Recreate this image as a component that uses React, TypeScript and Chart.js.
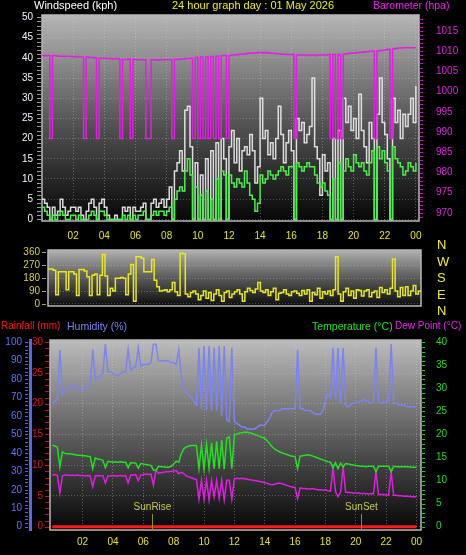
import React, { useEffect, useRef } from 'react';
import { Chart, registerables } from 'chart.js';
Chart.register(...registerables);

// ---------------- data (10-minute records, index / 6 = hour) ----------------
const POINTS_PER_HOUR = 6;
const HOUR_TICKS = [2, 4, 6, 8, 10, 12, 14, 16, 18, 20, 22, 24];
const HOUR_LABELS = ['02', '04', '06', '08', '10', '12', '14', '16', '18', '20', '22', '00'];

const WIND_TICKS = [0, 5, 10, 15, 20, 25, 30, 35, 40, 45, 50];
const BARO_TICKS = [970, 975, 980, 985, 990, 995, 1000, 1005, 1010, 1015];
const DIR_TICKS = [0, 90, 180, 270, 360];
const DIR_LETTERS = ['N', 'W', 'S', 'E', 'N'];
const HUM_TICKS = [0, 10, 20, 30, 40, 50, 60, 70, 80, 90, 100];
const RAIN_TICKS = [0, 5, 10, 15, 20, 25, 30];
const TEMP_TICKS = [0, 5, 10, 15, 20, 25, 30, 35, 40];

const TITLE = '24 hour graph day : 01 May 2026';
const SUN_LABELS = ['SunRise', 'SunSet'];
const SUN_HOURS = [6.55, 20.35];

const BARO = [
  1009.0, 1008.9, 1009.0, 988.4, 1008.9, 1008.9,
  1008.8, 1008.8, 1008.7, 1008.8, 1008.7, 1008.7,
  1008.6, 1008.7, 1008.6, 1008.6, 988.4, 1008.6,
  1008.5, 1008.5, 1008.4, 988.4, 1008.3, 1008.3,
  1008.3, 1008.2, 1008.2, 1008.1, 1008.2, 1008.1,
  988.4, 1008.0, 1008.0, 1008.1, 988.4, 1008.0,
  1007.9, 1007.9, 1007.9, 1007.9, 988.4, 988.4,
  1007.9, 1007.9, 1007.8, 1007.9, 1007.9, 1007.9,
  1007.9, 1008.0, 988.4, 1008.0, 1008.0, 1008.1,
  1008.1, 1008.2, 1008.2, 1008.3, 988.4, 1008.5,
  988.4, 1008.6, 988.4, 1008.6, 988.4, 1008.7,
  988.4, 1008.8, 988.4, 1008.9, 1009.0, 988.4,
  1009.0, 1009.1, 1009.1, 1009.2, 1009.3, 1009.3,
  1009.4, 1009.5, 1009.5, 1009.6, 1009.6, 1009.7,
  1009.7, 1009.6, 1009.7, 1009.6, 1009.5, 1009.5,
  1009.4, 1009.4, 1009.3, 1009.3, 1009.2, 1009.2,
  1009.2, 988.4, 1009.1, 1009.1, 1009.1, 1009.1,
  1009.0, 1009.1, 1009.1, 1009.0, 1009.1, 1009.1,
  1009.1, 1009.1, 1009.2, 988.4, 1009.2, 988.4,
  1009.2, 988.4, 1009.3, 1009.4, 1009.5, 1009.5,
  1009.6, 1009.7, 1009.7, 1009.8, 1009.9, 1009.9,
  1010.0, 1010.0, 988.4, 1010.1, 1010.2, 1010.3,
  1010.4, 1010.5, 988.4, 1010.6, 1010.7, 1010.8,
  1010.8, 1010.9, 1010.9, 1010.9, 1010.9, 1010.9,
  1010.9,
];

const GUST = [
  5, 4, 3, 0, 3, 1,
  2, 5, 3, 1, 2, 3,
  3, 2, 3, 1, 0, 2,
  4, 5, 3, 0, 4, 5,
  3, 1, 0, 0, 1, 0,
  0, 3, 2, 3, 0, 3,
  2, 2, 3, 4, 0, 0,
  4, 5, 3, 4, 5, 3,
  5, 8, 0, 12, 14, 17,
  12, 27, 28, 18, 0, 14,
  0, 11, 0, 15, 0, 17,
  0, 19, 0, 20, 15, 0,
  18, 22, 14, 20, 12, 17,
  18, 16, 21, 17, 9, 13,
  30, 20, 22, 16, 19, 15,
  20, 28, 21, 14, 19, 22,
  17, 0, 25, 22, 24, 19,
  21, 23, 35, 18, 15, 6,
  16, 12, 14, 0, 20, 0,
  22, 0, 30, 24, 28, 22,
  25, 20, 31, 22, 18, 14,
  24, 20, 0, 26, 35, 24,
  21, 15, 0, 30, 24, 27,
  20, 26, 23, 26, 30, 24,
  33,
];

const WIND = [
  3, 2, 1, 0, 1, 0,
  1, 2, 1, 0, 0, 1,
  1, 0, 1, 0, 0, 0,
  1, 2, 1, 0, 2, 2,
  1, 0, 0, 0, 0, 0,
  0, 1, 0, 1, 0, 1,
  0, 1, 1, 2, 0, 0,
  1, 2, 1, 2, 2, 1,
  2, 3, 0, 5, 7, 8,
  7, 12, 15, 11, 0, 8,
  0, 6, 0, 7, 0, 5,
  0, 10, 0, 12, 11, 0,
  11, 9, 8, 10, 9, 8,
  12, 9, 6, 5, 2, 4,
  11, 9, 10, 12, 11, 10,
  11, 12, 13, 12, 11, 13,
  13, 0, 14, 13, 12, 13,
  14, 13, 13, 11, 9, 8,
  9, 7, 6, 0, 10, 0,
  14, 0, 12, 15, 13, 12,
  16, 14, 13, 14, 12, 11,
  14, 17, 0, 18, 15, 17,
  14, 12, 0, 18, 15, 14,
  13, 11, 12, 14, 13, 12,
  14,
];

const DIRECTION = [
  245, 245, 235, 65, 225, 225,
  225, 100, 225, 225, 210, 60,
  240, 240, 230, 190, 60, 200,
  210, 65, 200, 345, 195, 60,
  110, 90, 180, 180, 185, 180,
  65, 210, 275, 20, 330, 330,
  320, 225, 225, 225, 310, 165,
  120, 90, 95, 100, 85, 100,
  150, 85, 60, 355, 350, 70,
  50, 80, 90, 70, 30, 60,
  90, 40, 80, 25, 70, 100,
  60, 20, 80, 90, 45, 70,
  85, 100, 70, 20, 85, 110,
  95, 80, 105, 150, 90, 80,
  100, 60, 85, 110, 30, 75,
  80, 100, 70, 60, 85, 90,
  75, 60, 95, 70, 100, 20,
  80, 65, 110, 40, 85, 70,
  90, 60, 100, 330, 70, 20,
  85, 110, 60, 90, 40, 100,
  95, 55, 90, 100, 50, 80,
  90, 45, 115, 80, 100, 70,
  110, 315, 90, 50, 115, 60,
  120, 60, 90, 130, 70, 90,
  85,
];

const HUMIDITY = [
  67, 68, 69, 96, 72, 73,
  74, 75, 77, 76, 75, 75,
  74, 75, 76, 78, 96, 80,
  81, 82, 83, 99, 84, 84,
  83, 82, 82, 83, 84, 84,
  96, 85, 86, 87, 97, 87,
  88, 88, 88, 89, 99, 99,
  90, 90, 90, 90, 90, 89,
  89, 88, 96, 82, 76, 73,
  71, 70, 68, 66, 97, 64,
  98, 63, 98, 63, 97, 63,
  98, 60, 98, 58, 57, 97,
  57, 56, 55, 54, 54, 53,
  53, 53, 53, 54, 55, 55,
  55, 57, 59, 62, 63, 63,
  63, 64, 64, 64, 64, 64,
  64, 96, 64, 64, 63, 63,
  63, 62, 61, 61, 61, 63,
  68, 72, 70, 97, 69, 97,
  67, 97, 66, 65, 66, 67,
  67, 68, 68, 69, 68, 68,
  67, 68, 97, 68, 67, 68,
  67, 68, 99, 67, 67, 66,
  66, 66, 65, 65, 65, 65,
  65,
];

const TEMPERATURE = [
  17.7, 17.5, 17.3, 13.0, 16.2, 15.9,
  15.8, 15.8, 15.7, 15.6, 15.5, 15.5,
  15.4, 15.4, 15.3, 15.2, 12.6, 14.9,
  14.7, 14.6, 14.4, 12.8, 14.2, 14.1,
  14.0, 14.1, 14.0, 14.1, 14.0, 14.0,
  12.8, 13.9, 13.8, 13.8, 12.7, 13.7,
  13.6, 13.5, 13.4, 13.3, 12.3, 12.2,
  13.1, 13.0, 13.0, 12.9, 12.9, 13.1,
  13.6, 14.2, 14.0, 15.8, 16.9, 17.3,
  17.5, 17.6, 17.6, 17.6, 12.6, 17.7,
  12.5, 17.9, 12.7, 18.2, 12.6, 18.5,
  12.6, 18.8, 12.5, 19.2, 19.5, 12.6,
  19.8, 20.1, 20.3, 20.4, 20.5, 20.5,
  20.4, 20.2, 20.0, 19.8, 19.6, 19.4,
  19.2, 18.6, 18.0, 17.3, 16.8, 16.5,
  16.2, 16.0, 15.8, 15.6, 15.4, 15.3,
  15.2, 12.6, 15.3, 15.4, 15.5, 15.6,
  15.5, 15.3, 15.1, 14.9, 14.7, 14.5,
  14.3, 14.1, 14.0, 12.8, 13.9, 12.6,
  13.8, 12.9, 13.7, 13.6, 13.5, 13.4,
  13.3, 13.2, 13.1, 13.1, 13.0, 13.1,
  13.1, 13.1, 11.9, 13.1, 13.1, 13.1,
  13.1, 13.1, 11.9, 13.1, 13.0, 13.0,
  13.0, 13.0, 13.0, 13.0, 12.9, 12.9,
  12.9,
];

const DEWPOINT = [
  11.2, 11.3, 11.2, 7.3, 11.0, 11.2,
  11.2, 11.1, 11.2, 11.1, 11.2, 11.1,
  11.1, 11.0, 11.1, 11.0, 8.7, 11.0,
  11.1, 11.0, 11.1, 9.5, 11.0, 11.0,
  11.1, 11.0, 11.0, 11.1, 11.0, 11.1,
  9.5, 11.2, 11.2, 11.3, 10.0, 11.2,
  11.3, 11.4, 11.3, 11.4, 9.0, 12.3,
  11.6, 11.7, 11.8, 11.9, 11.9, 12.0,
  12.1, 12.2, 11.5, 11.8, 11.5, 11.0,
  10.8, 10.6, 10.4, 10.2, 6.0, 10.1,
  6.0, 10.1, 5.8, 10.0, 6.5, 10.0,
  6.2, 10.1, 5.8, 10.1, 10.1, 6.0,
  10.4, 10.5, 10.4, 10.5, 10.4, 10.3,
  10.2, 10.1, 10.0, 9.9, 9.8, 9.7,
  9.6, 9.4, 9.2, 9.1, 9.2, 9.4,
  9.4, 9.3, 9.1, 8.9, 8.7, 8.6,
  8.5, 6.1, 8.4, 8.3, 8.3, 8.2,
  8.2, 8.3, 8.1, 8.0, 8.0, 7.9,
  8.0, 7.8, 7.7, 12.8, 7.6, 6.5,
  7.5, 12.9, 7.5, 7.4, 7.4, 7.3,
  7.3, 7.3, 7.2, 7.2, 7.2, 7.1,
  7.2, 7.1, 11.9, 7.0, 7.0, 7.0,
  6.9, 6.9, 11.9, 6.8, 6.8, 6.7,
  6.7, 6.6, 6.6, 6.6, 6.5, 6.5,
  6.5,
];

const RAIN_HOURS = [0, 24];
const RAIN = [0, 0];

// ---------------- helpers ----------------
const FONT = "'Liberation Sans', Arial, sans-serif";
const BOTTOM_CANVAS_TOP = 322;
const toXY = (vals: number[]) => vals.map((v, i) => ({ x: i / POINTS_PER_HOUR, y: v }));
const fixedTicks = (vals: number[]) => (scale: any) => {
  scale.ticks = vals.map((v) => ({ value: v }));
};
const hourLabel = (v: any) => {
  const i = HOUR_TICKS.indexOf(Number(v));
  return i >= 0 ? HOUR_LABELS[i] : '';
};
const plain = (v: any) => String(v);

type Minor = { axis: string; from: number; to: number; step: number; x1: number; x2: number; color: string };

function panelPlugin(stops: [number, string][], frame: string, minors: Minor[], extra?: (chart: any) => void) {
  return {
    id: 'panel',
    beforeDraw(chart: any) {
      const { ctx, chartArea: a } = chart;
      const g = ctx.createLinearGradient(0, a.top, 0, a.bottom);
      stops.forEach(([o, c]) => g.addColorStop(o, c));
      ctx.save();
      ctx.fillStyle = g;
      ctx.fillRect(a.left, a.top, a.right - a.left, a.bottom - a.top);
      ctx.restore();
    },
    beforeDatasetsDraw(chart: any) {
      const { ctx, chartArea: a } = chart;
      ctx.save();
      ctx.strokeStyle = frame;
      ctx.lineWidth = 1.5;
      ctx.strokeRect(a.left, a.top, a.right - a.left, a.bottom - a.top);
      ctx.restore();
    },
    afterDraw(chart: any) {
      const { ctx } = chart;
      ctx.save();
      minors.forEach((m) => {
        const s = chart.scales[m.axis];
        ctx.strokeStyle = m.color;
        ctx.lineWidth = 1;
        ctx.beginPath();
        for (let v = m.from; v <= m.to + 1e-6; v += m.step) {
          const y = Math.round(s.getPixelForValue(v)) + 0.5;
          ctx.moveTo(m.x1, y);
          ctx.lineTo(m.x2, y);
        }
        ctx.stroke();
      });
      ctx.restore();
      if (extra) extra(chart);
    },
  };
}

const tickFont = { family: FONT, size: 10 };

function useChart(ref: React.RefObject<HTMLCanvasElement>, make: (c: HTMLCanvasElement) => Chart) {
  useEffect(() => {
    if (!ref.current) return;
    const ch = make(ref.current);
    return () => ch.destroy();
  }, []);
}

export default function App() {
  const topRef = useRef<HTMLCanvasElement>(null);
  const midRef = useRef<HTMLCanvasElement>(null);
  const botRef = useRef<HTMLCanvasElement>(null);

  useEffect(() => {
    document.body.style.margin = '0';
    document.body.style.background = '#000';
  }, []);

  useChart(topRef, (c) =>
    new Chart(c, {
      type: 'line',
      data: {
        datasets: [
          { label: 'Barometer', data: toXY(BARO), yAxisID: 'yB', borderColor: '#e41ee4', borderWidth: 1.5, pointRadius: 0, stepped: true },
          { label: 'Wind', data: toXY(WIND), yAxisID: 'yW', borderColor: '#4cf04c', borderWidth: 1.5, pointRadius: 0, stepped: true },
          { label: 'Gust', data: toXY(GUST), yAxisID: 'yW', borderColor: 'rgba(236,236,236,0.92)', borderWidth: 1.5, pointRadius: 0, stepped: true },
        ],
      },
      options: {
        animation: false,
        responsive: false,
        maintainAspectRatio: false,
        layout: { padding: { top: 11, left: 0, right: 0, bottom: 0 } },
        plugins: { legend: { display: false }, tooltip: { enabled: false } },
        scales: {
          x: {
            type: 'linear', min: 0, max: 24.2,
            afterBuildTicks: fixedTicks(HOUR_TICKS),
            afterFit: (s: any) => { s.height = 24; },
            ticks: { color: '#e6e600', font: tickFont, callback: hourLabel, autoSkip: false, maxRotation: 0, padding: 9 },
            grid: { color: 'rgba(215,215,215,0.35)', drawTicks: false },
            border: { display: false, dash: [1, 2] },
          },
          yW: {
            position: 'left', min: -0.4, max: 50.6,
            afterBuildTicks: fixedTicks(WIND_TICKS),
            afterFit: (s: any) => { s.width = 42; },
            ticks: { color: '#f2f4ff', font: tickFont, padding: 9, callback: plain },
            grid: { color: 'rgba(215,215,215,0.3)', drawTicks: false },
            border: { display: false, dash: [1, 2] },
          },
          yB: {
            position: 'right', min: 968.0, max: 1019.0,
            afterBuildTicks: fixedTicks(BARO_TICKS),
            afterFit: (s: any) => { s.width = 47; },
            ticks: { color: '#e020e0', font: tickFont, padding: 9, callback: plain },
            grid: { display: false },
            border: { display: false },
          },
        },
      },
      plugins: [
        panelPlugin(
          [[0, '#b6b6b6'], [0.5, '#585858'], [1, '#060606']],
          '#b8b8b8',
          [
            { axis: 'yW', from: 0, to: 50, step: 1, x1: 37, x2: 41, color: '#9a9a9a' },
            { axis: 'yB', from: 969, to: 1018, step: 1, x1: 420, x2: 423, color: '#c010c0' },
          ]
        ),
      ],
    } as any)
  );

  useChart(midRef, (c) =>
    new Chart(c, {
      type: 'line',
      data: {
        datasets: [
          { label: 'Direction', data: toXY(DIRECTION), borderColor: '#e8e81e', borderWidth: 1.5, pointRadius: 0, stepped: true },
        ],
      },
      options: {
        animation: false,
        responsive: false,
        maintainAspectRatio: false,
        layout: { padding: { top: 7, right: 45, bottom: 7, left: 0 } },
        plugins: { legend: { display: false }, tooltip: { enabled: false } },
        scales: {
          x: { type: 'linear', min: 0, max: 24, display: false },
          y: {
            position: 'left', min: -14, max: 377,
            afterBuildTicks: fixedTicks(DIR_TICKS),
            afterFit: (s: any) => { s.width = 48; },
            ticks: { color: '#d2d23a', font: tickFont, padding: 8, callback: plain },
            grid: { color: 'rgba(215,215,215,0.3)', drawTicks: false },
            border: { display: false, dash: [1, 2] },
          },
        },
      },
      plugins: [
        panelPlugin(
          [[0, '#b0b0b0'], [0.5, '#5a5a5a'], [1, '#0c0c0c']],
          '#b8b8b8',
          [{ axis: 'y', from: 0, to: 360, step: 90, x1: 42, x2: 46, color: '#9a9a9a' }]
        ),
      ],
    } as any)
  );

  useChart(botRef, (c) =>
    new Chart(c, {
      type: 'line',
      data: {
        datasets: [
          { label: 'Rainfall (mm)', data: RAIN_HOURS.map((h, i) => ({ x: h, y: RAIN[i] })), yAxisID: 'yR', borderColor: '#ff1a1a', borderWidth: 3, pointRadius: 0, clip: false },
          { label: 'Humidity (%)', data: toXY(HUMIDITY), yAxisID: 'yH', borderColor: '#7c84f0', borderWidth: 1.5, pointRadius: 0 },
          { label: 'Temperature (°C)', data: toXY(TEMPERATURE), yAxisID: 'yT', borderColor: '#22e022', borderWidth: 1.5, pointRadius: 0 },
          { label: 'Dew Point (°C)', data: toXY(DEWPOINT), yAxisID: 'yT', borderColor: '#e01ee0', borderWidth: 1.5, pointRadius: 0 },
        ],
      },
      options: {
        animation: false,
        responsive: false,
        maintainAspectRatio: false,
        layout: { padding: { top: 18, left: 0, right: 0, bottom: 0 } },
        plugins: { legend: { display: false }, tooltip: { enabled: false } },
        scales: {
          x: {
            type: 'linear', min: -0.15, max: 24.3,
            afterBuildTicks: fixedTicks(HOUR_TICKS),
            afterFit: (s: any) => { s.height = 25; },
            ticks: { color: '#e6e600', font: tickFont, callback: hourLabel, autoSkip: false, maxRotation: 0, padding: 6 },
            grid: { color: 'rgba(215,215,215,0.35)', drawTicks: false },
            border: { display: false, dash: [1, 2] },
          },
          yH: {
            position: 'left', weight: 1, min: -1.8, max: 101.25,
            afterBuildTicks: fixedTicks(HUM_TICKS),
            afterFit: (s: any) => { s.width = 30; },
            ticks: { color: '#5e70ff', font: tickFont, padding: 8, callback: plain },
            grid: { display: false, drawTicks: false },
            border: { display: true, color: '#5a66e6', width: 3 },
          },
          yR: {
            position: 'left', weight: 0, min: -0.54, max: 30.37,
            afterBuildTicks: fixedTicks(RAIN_TICKS),
            afterFit: (s: any) => { s.width = 20; },
            ticks: { color: '#e01414', font: tickFont, padding: 7, callback: plain },
            grid: { color: 'rgba(215,215,215,0.3)', drawTicks: false },
            border: { display: false, dash: [1, 2] },
          },
          yT: {
            position: 'right', min: -0.72, max: 40.5,
            afterBuildTicks: fixedTicks(TEMP_TICKS),
            afterFit: (s: any) => { s.width = 45; },
            ticks: { color: '#22d822', font: tickFont, padding: 7, callback: plain },
            grid: { display: false },
            border: { display: false },
          },
        },
      },
      plugins: [
        panelPlugin(
          [[0, '#bcbcbc'], [0.5, '#5e5e5e'], [1, '#060606']],
          '#b8b8b8',
          [
            { axis: 'yH', from: 0, to: 100, step: 2, x1: 25, x2: 28, color: '#5a66e6' },
            { axis: 'yR', from: 0, to: 30, step: 1, x1: 45, x2: 49, color: '#d01010' },
            { axis: 'yT', from: 0, to: 40, step: 1, x1: 421, x2: 425, color: '#1ec81e' },
          ],
          (chart: any) => {
            const { ctx, chartArea: a } = chart;
            const xs = chart.scales.x;
            ctx.save();
            SUN_HOURS.forEach((h, i) => {
              const x = Math.round(xs.getPixelForValue(h)) + 0.5;
              ctx.strokeStyle = '#8e8e2a';
              ctx.lineWidth = 1;
              ctx.beginPath();
              ctx.moveTo(x, 514 - BOTTOM_CANVAS_TOP);
              ctx.lineTo(x, a.bottom);
              ctx.stroke();
              ctx.fillStyle = '#c8c850';
              ctx.font = `10px ${FONT}`;
              ctx.textAlign = 'center';
              ctx.textBaseline = 'middle';
              ctx.fillText(SUN_LABELS[i], x, 507 - BOTTOM_CANVAS_TOP);
            });
            ctx.restore();
          }
        ),
      ],
    } as any)
  );

  const label = (text: string, left: number, top: number, color: string, size = 11) => (
    <div
      style={{
        position: 'absolute', left, top, color, whiteSpace: 'nowrap',
        font: `${size}px ${FONT}`, lineHeight: `${size + 2}px`,
      }}
    >
      {text}
    </div>
  );

  return (
    <div style={{ position: 'fixed', left: 0, top: 0, width: 466, height: 555, background: '#000', overflow: 'hidden' }}>
      <canvas ref={topRef} width={466} height={245} style={{ position: 'absolute', left: 0, top: 0, display: 'block' }} />
      <canvas ref={midRef} width={466} height={84} style={{ position: 'absolute', left: 0, top: 236, display: 'block' }} />
      <canvas ref={botRef} width={466} height={233} style={{ position: 'absolute', left: 0, top: BOTTOM_CANVAS_TOP, display: 'block' }} />
      {label('Windspeed (kph)', 34, -1, '#ffffff')}
      {label(TITLE, 172, -1, '#f0f000')}
      {label('Barometer (hpa)', 373, -1, '#f020f0', 10.5)}
      {DIR_LETTERS.map((l, i) => (
        <React.Fragment key={i}>{label(l, 437, 237 + i * 16.5, '#f0f020', 13)}</React.Fragment>
      ))}
      {label('Rainfall (mm)', 1, 320, '#ff1a1a', 10)}
      {label('Humidity (%)', 67, 320, '#7a82f0', 10.5)}
      {label('Temperature (°C)', 312, 320, '#20e020', 10.5)}
      {label('Dew Point (°C)', 395, 320, '#f020f0', 10)}
    </div>
  );
}
